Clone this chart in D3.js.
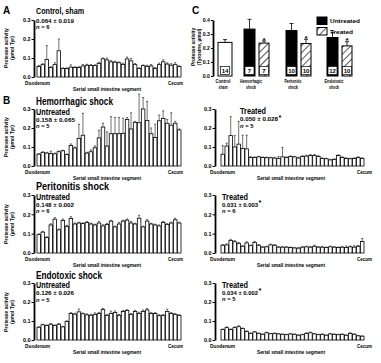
<!DOCTYPE html>
<html><head><meta charset="utf-8">
<script src="https://cdn.jsdelivr.net/npm/d3@7"></script>
<style>body{margin:0;background:#fff}svg{display:block;font-family:"Liberation Sans","Open Sans",sans-serif;font-weight:bold}</style>
</head><body><svg id="c" width="381" height="363"></svg>
<script>
// ---------- DATA ----------
const segTicks = [0, 0.1, 0.2, 0.3];
const groupTicks = [0, 0.1, 0.2, 0.3, 0.4];

const shamVals = [0.055,0.065,0.092,0.05,0.065,0.138,0.045,0.045,0.052,0.05,0.05,0.058,0.062,0.06,0.06,0.072,0.096,0.09,0.08,0.078,0.075,0.066,0.095,0.085,0.065,0.045,0.06,0.056,0.058,0.045,0.065,0.08,0.068,0.062,0.065,0.055];
const shamErrs = [0.006,0.005,0.073,0.004,0.01,0.062,0.003,0.003,0.012,0.004,0.004,0.008,0.005,0.006,0.004,0.005,0.004,0.01,0.006,0.005,0.004,0.006,0.01,0.012,0.006,0.004,0.003,0.006,0.008,0.005,0.008,0.01,0.006,0.008,0.01,0.004];

const hemUVals = [0.062,0.072,0.068,0.066,0.064,0.075,0.080,0.060,0.108,0.095,0.145,0.162,0.068,0.075,0.096,0.148,0.205,0.105,0.170,0.170,0.170,0.172,0.245,0.195,0.230,0.228,0.300,0.240,0.170,0.150,0.238,0.250,0.225,0.215,0.225,0.190];
const hemUErrs = [0.003,0.003,0.004,0.012,0.004,0.004,0.003,0.003,0.008,0.005,0.075,0.115,0.004,0.01,0.01,0.04,0.02,0.075,0.09,0.085,0.085,0.08,0.01,0.085,0.005,0.15,0.06,0.10,0.03,0.07,0.03,0.04,0.02,0.065,0.01,0.005];

const hemTVals = [0.062,0.105,0.160,0.100,0.115,0.092,0.090,0.045,0.045,0.048,0.045,0.044,0.043,0.042,0.040,0.048,0.045,0.050,0.048,0.042,0.050,0.052,0.055,0.055,0.050,0.040,0.038,0.032,0.035,0.055,0.045,0.040,0.038,0.040,0.045,0.040];
const hemTErrs = [0.045,0.015,0.10,0.06,0.12,0.07,0.072,0.005,0.003,0.003,0.003,0.003,0.003,0.003,0.01,0.05,0.003,0.003,0.003,0.004,0.004,0.005,0.006,0.006,0.004,0.003,0.003,0.003,0.003,0.004,0.003,0.003,0.003,0.003,0.003,0.003];

const periUVals = [0.095,0.108,0.080,0.145,0.175,0.120,0.168,0.138,0.178,0.150,0.155,0.152,0.158,0.150,0.145,0.155,0.140,0.148,0.165,0.135,0.150,0.165,0.170,0.155,0.150,0.180,0.135,0.165,0.150,0.145,0.140,0.158,0.148,0.155,0.172,0.155];
const periUErrs = [0.004,0.004,0.004,0.006,0.008,0.004,0.008,0.005,0.01,0.005,0.004,0.004,0.005,0.004,0.004,0.008,0.006,0.005,0.004,0.004,0.008,0.005,0.006,0.008,0.004,0.015,0.004,0.008,0.004,0.004,0.005,0.005,0.004,0.005,0.008,0.004];

const periTVals = [0.040,0.042,0.065,0.058,0.050,0.035,0.052,0.038,0.055,0.040,0.030,0.032,0.042,0.040,0.030,0.030,0.030,0.028,0.026,0.025,0.030,0.032,0.030,0.035,0.030,0.030,0.028,0.032,0.030,0.028,0.030,0.028,0.032,0.030,0.035,0.060];
const periTErrs = [0.004,0.005,0.006,0.006,0.005,0.003,0.006,0.003,0.005,0.004,0.003,0.003,0.004,0.003,0.003,0.003,0.003,0.003,0.003,0.003,0.004,0.003,0.004,0.005,0.003,0.004,0.003,0.004,0.003,0.003,0.004,0.008,0.004,0.008,0.004,0.015];

const endoUVals = [0.067,0.080,0.076,0.083,0.076,0.083,0.069,0.097,0.140,0.136,0.148,0.138,0.132,0.130,0.135,0.140,0.160,0.130,0.140,0.145,0.130,0.150,0.155,0.135,0.150,0.140,0.150,0.158,0.140,0.140,0.128,0.130,0.150,0.140,0.135,0.130];
const endoUErrs = [0.003,0.003,0.003,0.004,0.003,0.004,0.003,0.004,0.004,0.005,0.015,0.004,0.006,0.006,0.008,0.005,0.006,0.004,0.012,0.008,0.004,0.005,0.004,0.004,0.006,0.006,0.008,0.008,0.004,0.004,0.005,0.004,0.012,0.004,0.004,0.003];

const endoTVals = [0.055,0.065,0.055,0.065,0.070,0.060,0.045,0.035,0.042,0.035,0.030,0.038,0.033,0.035,0.032,0.030,0.028,0.032,0.030,0.025,0.028,0.035,0.038,0.032,0.028,0.030,0.025,0.032,0.030,0.028,0.030,0.025,0.035,0.030,0.022,0.020];
const endoTErrs = [0.003,0.004,0.003,0.004,0.005,0.003,0.003,0.002,0.003,0.002,0.002,0.003,0.002,0.002,0.002,0.002,0.002,0.002,0.002,0.002,0.002,0.003,0.004,0.002,0.002,0.002,0.002,0.002,0.002,0.002,0.002,0.002,0.003,0.002,0.002,0.002];

// panel C
const groups = ["Control sham", "Hemorrhagic shock", "Peritonitis shock", "Endotoxic shock"];
const groupLines = [["Control","sham"],["Hemorrhagic","shock"],["Peritonitis","shock"],["Endotoxic","shock"]];
const untreatedMeans = [0.24, 0.335, 0.325, 0.275];
const untreatedErrs = [0.02, 0.07, 0.05, 0.035];
const untreatedN = [14, 7, 10, 12];
const treatedMeans = [null, 0.235, 0.232, 0.215];
const treatedErrs = [null, 0.015, 0.03, 0.03];
const treatedN = [null, 7, 10, 10];

// ---------- DRAW ----------
const svg = d3.select("#c");
const defs = svg.append("defs");
const pat = defs.append("pattern").attr("id","hatch").attr("patternUnits","userSpaceOnUse")
  .attr("width",5).attr("height",5).attr("patternTransform","rotate(45)");
pat.append("rect").attr("width",5).attr("height",5).attr("fill","#fff");
pat.append("line").attr("x1",0).attr("y1",0).attr("x2",0).attr("y2",5).attr("stroke","#000").attr("stroke-width",1.3);

function txt(x, y, s, size, opts = {}) {
  const t = svg.append("text").attr("x", x).attr("y", y).attr("font-size", size)
    .attr("text-anchor", opts.anchor || "start").attr("fill", "#000");
  if (opts.len) t.attr("textLength", opts.len).attr("lengthAdjust", "spacingAndGlyphs");
  if (opts.italic) t.attr("font-style","italic");
  t.text(s);
  return t;
}
function statLine(x, y, s, len, star) {
  txt(x, y, s, 5.8, {len: len});
  if (star) txt(x + len + 0.5, y - 1.2, "*", 7.5);
}
function nLine(x, y, n) {
  const t = svg.append("text").attr("x", x).attr("y", y).attr("font-size", 5.8).attr("fill","#000");
  t.append("tspan").attr("font-style","italic").text("n");
  t.append("tspan").text(" = " + n);
}
function yTitle(cx, cy, lines, size) {
  lines.forEach((l, i) => {
    svg.append("text").attr("transform", `translate(${cx + i*5.8},${cy}) rotate(-90)`)
      .attr("text-anchor","middle").attr("font-size", size).text(l);
  });
}

function segPanel(p) {
  const y = d3.scaleLinear().domain([0, 0.3]).range([p.yBase, p.yTop]);
  const x = d3.scaleBand().domain(d3.range(p.vals.length)).range([p.x0, p.x1]).paddingInner(0.12);
  const g = svg.append("g");
  const ax = g.append("g").attr("transform", `translate(${p.axisX},0)`)
    .call(d3.axisLeft(y).tickValues(segTicks).tickFormat(d3.format(".1f")).tickSize(2.5).tickSizeOuter(0));
  ax.select(".domain").attr("stroke-width", 1.8);
  ax.selectAll(".tick line").attr("stroke-width", 1);
  ax.selectAll(".tick text").attr("font-size", 5.4).attr("font-family", null).attr("font-weight","bold").attr("x", -3.5);
  const eg = g.append("g").attr("stroke","#333").attr("stroke-width",0.7);
  p.vals.forEach((v, i) => {
    const cx = x(i) + x.bandwidth()/2, e = p.errs[i];
    eg.append("line").attr("x1",cx).attr("x2",cx).attr("y1",y(v)).attr("y2",y(v+e));
    eg.append("line").attr("x1",cx-1.1).attr("x2",cx+1.1).attr("y1",y(v+e)).attr("y2",y(v+e));
  });
  g.append("g").selectAll("rect").data(p.vals).join("rect")
    .attr("x",(d,i)=>x(i)).attr("width",x.bandwidth())
    .attr("y",d=>y(d)).attr("height",d=>p.yBase - y(d))
    .attr("fill","#fff").attr("stroke","#000").attr("stroke-width",0.8);
  txt(p.axisX + p.duoOff, p.yBase + 8, "Duodenum", 5.6, {len: 25});
  txt(p.axisX + p.cecOff, p.yBase + 8, "Cecum", 5.6, {anchor:"end", len: 15});
  txt(p.axisX + p.serOff, p.yBase + 13.8, "Serial small intestine segment", 5.2, {anchor:"middle", len: 68});
}

const L = {axisX:34, x0:37, x1:181, duoOff:-9, cecOff:149, serOff:73};
const R = {axisX:215, x0:221, x1:364, duoOff:-5, cecOff:157, serOff:76};

// Panel A
txt(3, 14, "A", 10);
txt(36, 13.5, "Control, sham", 8.6, {len: 48});
statLine(36, 22.5, "0.064 ± 0.019", 38, false);
nLine(36, 29, 6);
yTitle(8, 48, ["Protease activity","(µmol Tyr)"], 5);
segPanel({...L, yTop:20, yBase:77, vals: shamVals, errs: shamErrs});

// Panel B
txt(3, 104, "B", 10);
txt(36, 105, "Hemorrhagic shock", 10.5, {len: 77});
txt(36, 114.5, "Untreated", 8.4, {len: 34});
statLine(36, 121.5, "0.158 ± 0.065", 39, false);
nLine(36, 128.2, 5);
yTitle(8, 137, ["Protease activity","(µmol Tyr)"], 5);
segPanel({...L, yTop:109, yBase:166, vals: hemUVals, errs: hemUErrs});
txt(240, 113.5, "Treated", 8.4, {len: 26});
statLine(240, 120.8, "0.050 ± 0.028", 38, true);
nLine(240, 127.5, 5);
segPanel({...R, yTop:109, yBase:166, vals: hemTVals, errs: hemTErrs});

txt(36, 189.5, "Peritonitis shock", 10.5, {len: 73});
txt(36, 199.5, "Untreated", 8.4, {len: 34});
statLine(36, 206.6, "0.148 ± 0.002", 38, false);
nLine(36, 213.3, 6);
yTitle(8, 224, ["Protease activity","(µmol Tyr)"], 5);
segPanel({...L, yTop:195, yBase:253, vals: periUVals, errs: periUErrs});
txt(222, 199.5, "Treated", 8.4, {len: 26});
statLine(222, 206.6, "0.031 ± 0.003", 36, true);
nLine(222, 213.3, 6);
segPanel({...R, yTop:195, yBase:253, vals: periTVals, errs: periTErrs});

txt(36, 278.5, "Endotoxic shock", 10.5, {len: 66});
txt(36, 288, "Untreated", 8.4, {len: 34});
statLine(36, 295, "0.126 ± 0.026", 38, false);
nLine(36, 301.7, 5);
yTitle(8, 312, ["Protease activity","(µmol Tyr)"], 5);
segPanel({...L, yTop:283, yBase:340, vals: endoUVals, errs: endoUErrs});
txt(222, 287.5, "Treated", 8.4, {len: 26});
statLine(222, 294.5, "0.034 ± 0.002", 36, true);
nLine(222, 301.2, 5);
segPanel({...R, yTop:283, yBase:340, vals: endoTVals, errs: endoTErrs});

// Panel C
txt(192, 14, "C", 10);
(function(){
  const yBase = 76, axisX = 213;
  const y = d3.scaleLinear().domain([0, 0.4]).range([yBase, 20]);
  const xU = d3.scaleOrdinal().domain(groups).range([218, 244, 286, 327]);
  const uW = d3.scaleOrdinal().domain(groups).range([14, 11, 11, 11]);
  const labLen = [[15, 9], [22, 10], [17, 10], [19, 10]];
  const gap = 15;
  const ax = svg.append("g").attr("transform", `translate(${axisX},0)`)
    .call(d3.axisLeft(y).tickValues(groupTicks).tickFormat(d3.format(".1f")).tickSize(2).tickSizeOuter(0));
  ax.select(".domain").attr("stroke-width", 1.8);
  ax.selectAll(".tick text").attr("font-size", 5.2).attr("font-family", null).attr("font-weight","bold").attr("x",-3);
  yTitle(195, 47, ["Protease activity","(Tyrosine, µmol)"], 4.8);

  function bar(x0, w, v, e, n, fill) {
    const cx = x0 + w/2;
    svg.append("line").attr("x1",cx).attr("x2",cx).attr("y1",y(v)).attr("y2",y(v+e)).attr("stroke","#000").attr("stroke-width",0.8);
    svg.append("line").attr("x1",cx-2).attr("x2",cx+2).attr("y1",y(v+e)).attr("y2",y(v+e)).attr("stroke","#000").attr("stroke-width",0.8);
    svg.append("rect").attr("x",x0).attr("y",y(v)).attr("width",w).attr("height",yBase-y(v))
      .attr("fill",fill).attr("stroke","#000").attr("stroke-width",1);
    svg.append("rect").attr("x",cx-4.5).attr("y",yBase-9.5).attr("width",9).attr("height",8)
      .attr("fill","#fff").attr("stroke","#000").attr("stroke-width",0.7);
    txt(cx, yBase-3.3, String(n), 6, {anchor:"middle"});
  }
  groups.forEach((gname, i) => {
    const x0 = xU(gname), w = uW(gname);
    bar(x0, w, untreatedMeans[i], untreatedErrs[i], untreatedN[i], i === 0 ? "#fff" : "#000");
    if (treatedMeans[i] != null) {
      bar(x0 + gap, 10, treatedMeans[i], treatedErrs[i], treatedN[i], "url(#hatch)");
      txt(x0 + gap + 5, y(treatedMeans[i] + treatedErrs[i]) + 1.5, "*", 8, {anchor:"middle"});
    }
    const lx = x0 + (i === 0 ? 5 : 7);
    txt(lx, 82.5, groupLines[i][0], 4.8, {anchor:"middle", len: labLen[i][0]});
    txt(lx, 88.5, groupLines[i][1], 4.8, {anchor:"middle", len: labLen[i][1]});
  });
  // legend
  svg.append("rect").attr("x",317).attr("y",17).attr("width",10).attr("height",7.5).attr("fill","#000").attr("stroke","#000");
  svg.append("rect").attr("x",317).attr("y",27.5).attr("width",10).attr("height",7.5).attr("fill","url(#hatch)").attr("stroke","#000");
  txt(330, 23, "Untreated", 6, {len: 30});
  txt(330, 33.5, "Treated", 6, {len: 23});
})();
</script></body></html>
